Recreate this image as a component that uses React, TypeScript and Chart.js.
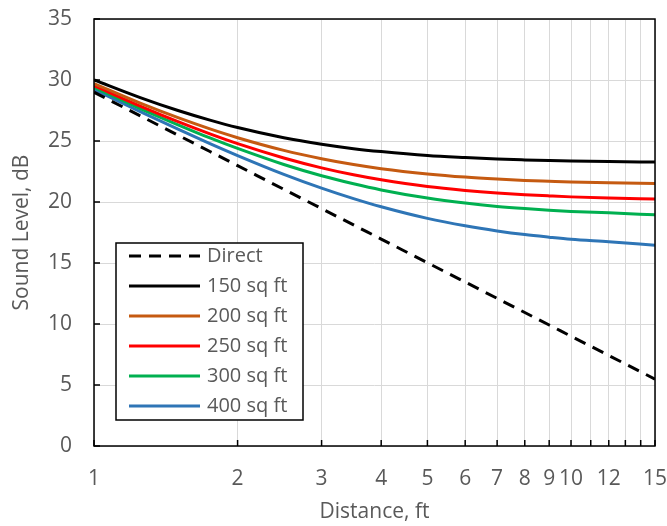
import React, { useEffect, useRef } from "react";
import { Chart, registerables } from "chart.js";

Chart.register(...registerables);

const distances = [1, 1.25, 1.5, 1.75, 2, 2.5, 3, 3.5, 4, 5, 6, 7, 8, 9, 10, 12, 15];
const direct = [29, 27.06, 25.48, 24.14, 22.98, 21.04, 19.46, 18.12, 16.96, 15.02, 13.44, 12.1, 10.94, 9.92, 9.0, 7.42, 5.48];
const room150 = [30.01, 28.56, 27.5, 26.71, 26.1, 25.26, 24.73, 24.37, 24.13, 23.81, 23.64, 23.52, 23.45, 23.4, 23.36, 23.31, 23.27];
const room200 = [29.7, 28.1, 26.91, 25.99, 25.27, 24.23, 23.55, 23.07, 22.73, 22.3, 22.04, 21.88, 21.77, 21.7, 21.64, 21.57, 21.51];
const room250 = [29.53, 27.86, 26.58, 25.58, 24.78, 23.61, 22.8, 22.23, 21.82, 21.27, 20.95, 20.74, 20.6, 20.5, 20.42, 20.33, 20.25];
const room300 = [29.4, 27.66, 26.33, 25.25, 24.39, 23.07, 22.15, 21.49, 20.99, 20.32, 19.91, 19.64, 19.46, 19.33, 19.23, 19.11, 18.95];
const room400 = [29.22, 27.4, 25.97, 24.79, 23.81, 22.27, 21.14, 20.28, 19.61, 18.66, 18.05, 17.63, 17.33, 17.12, 16.95, 16.74, 16.45];

const seriesNames = ["Direct", "150 sq ft", "200 sq ft", "250 sq ft", "300 sq ft", "400 sq ft"];
const seriesColors = ["#000000", "#000000", "#c55a11", "#ff0000", "#00b050", "#2e75b6"];

const gridValues = [1, 2, 3, 4, 5, 6, 7, 8, 9, 10, 11, 12, 13, 14, 15];
const xTickLabels = [1, 2, 3, 4, 5, 6, 7, 8, 9, 10, 12, 15];
const yTicks = [0, 5, 10, 15, 20, 25, 30, 35];

const FONT = "'Open Sans', 'Noto Sans', sans-serif";
const TEXT = "#595959";

const frameAndLegend = {
  id: "frameAndLegend",
  afterDatasetsDraw(chart: any) {
    const { ctx, chartArea } = chart;
    const xs = chart.scales.x;
    const ys = chart.scales.y;
    ctx.save();
    ctx.strokeStyle = "#000";
    ctx.lineWidth = 1.5;
    ctx.beginPath();
    gridValues.forEach((v) => {
      const px = xs.getPixelForValue(v);
      ctx.moveTo(px, chartArea.bottom);
      ctx.lineTo(px, chartArea.bottom - 6);
    });
    yTicks.forEach((v) => {
      const py = ys.getPixelForValue(v);
      ctx.moveTo(chartArea.left, py);
      ctx.lineTo(chartArea.left + 6, py);
    });
    ctx.stroke();
    ctx.lineWidth = 1.5;
    ctx.strokeRect(chartArea.left, chartArea.top, chartArea.right - chartArea.left, chartArea.bottom - chartArea.top);

    const bx = chartArea.left + 22;
    const by = chartArea.top + 224;
    const bw = 187;
    const bh = 177;
    ctx.fillStyle = "#ffffff";
    ctx.fillRect(bx, by, bw, bh);
    ctx.strokeStyle = "#000";
    ctx.lineWidth = 1.5;
    ctx.strokeRect(bx, by, bw, bh);
    ctx.font = `20px ${FONT}`;
    ctx.textBaseline = "middle";
    ctx.textAlign = "left";
    seriesNames.forEach((name, i) => {
      const ly = by + 13 + i * 30;
      ctx.beginPath();
      ctx.strokeStyle = seriesColors[i];
      ctx.lineWidth = 3;
      ctx.setLineDash(i === 0 ? [12, 8] : []);
      ctx.moveTo(bx + 13, ly);
      ctx.lineTo(bx + 84, ly);
      ctx.stroke();
      ctx.setLineDash([]);
      ctx.fillStyle = TEXT;
      ctx.fillText(name, bx + 91, ly);
    });
    ctx.restore();
  },
};

export default function App() {
  const ref = useRef<HTMLCanvasElement | null>(null);
  useEffect(() => {
    if (!ref.current) return;
    const allSeries = [direct, room150, room200, room250, room300, room400];
    const chart = new Chart(ref.current, {
      type: "line",
      data: {
        datasets: allSeries.map((s, i) => ({
          label: seriesNames[i],
          data: distances.map((d, j) => ({ x: d, y: s[j] })),
          borderColor: seriesColors[i],
          borderWidth: 3,
          borderDash: i === 0 ? [12, 8] : [],
          pointRadius: 0,
          fill: false,
          cubicInterpolationMode: "monotone" as const,
        })),
      },
      options: {
        animation: false,
        responsive: true,
        maintainAspectRatio: false,
        layout: { padding: { left: 0, top: 19, right: 12, bottom: 0 } },
        plugins: { legend: { display: false }, tooltip: { enabled: false } },
        scales: {
          x: {
            type: "logarithmic",
            min: 1,
            max: 15,
            afterBuildTicks: (scale: any) => {
              scale.ticks = gridValues.map((v) => ({ value: v }));
            },
            afterFit: (scale: any) => {
              scale.height = 80;
              scale.paddingLeft = 0;
              scale.paddingRight = 0;
            },
            grid: { color: "#d9d9d9", lineWidth: 1, drawTicks: false },
            border: { display: false },
            ticks: {
              autoSkip: false,
              maxRotation: 0,
              padding: 20,
              color: TEXT,
              font: { family: FONT, size: 21 },
              callback: (v: any) => (xTickLabels.includes(Number(v)) ? String(v) : ""),
            },
            title: {
              display: true,
              text: "Distance, ft",
              color: TEXT,
              font: { family: FONT, size: 21 },
              padding: { top: 0, bottom: 1 },
            },
          },
          y: {
            min: 0,
            max: 35,
            afterBuildTicks: (scale: any) => {
              scale.ticks = yTicks.map((v) => ({ value: v }));
            },
            afterFit: (scale: any) => {
              scale.width = 94;
              scale.paddingTop = 0;
              scale.paddingBottom = 0;
            },
            grid: { color: "#d9d9d9", lineWidth: 1, drawTicks: false },
            border: { display: false },
            ticks: {
              padding: 22,
              color: TEXT,
              font: { family: FONT, size: 21 },
            },
            title: {
              display: true,
              text: "Sound Level, dB",
              color: TEXT,
              font: { family: FONT, size: 21 },
              padding: { top: 9, bottom: 0 },
            },
          },
        },
      },
      plugins: [frameAndLegend],
    });
    return () => chart.destroy();
  }, []);
  return (
    <div style={{ position: "absolute", left: 0, top: 0, width: 667, height: 526 }}>
      <canvas ref={ref} />
    </div>
  );
}
